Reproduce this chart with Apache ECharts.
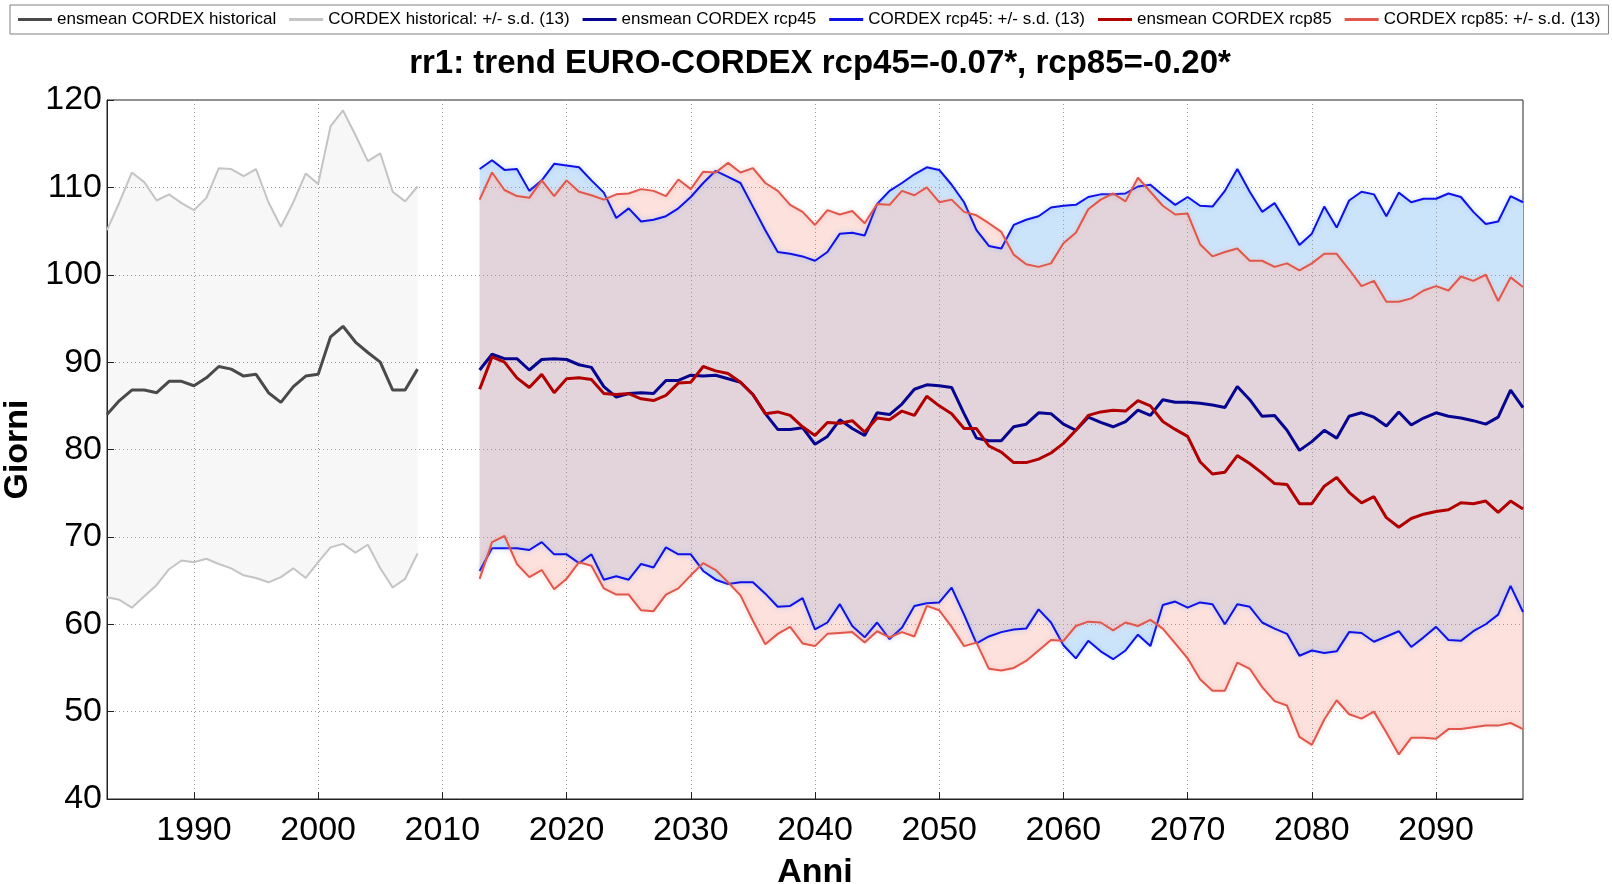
<!DOCTYPE html>
<html><head><meta charset="utf-8">
<script src="https://cdn.jsdelivr.net/npm/echarts@6/dist/echarts.min.js"></script>
<style>html,body{margin:0;padding:0;background:#fff}#c{width:1612px;height:884px}</style>
</head><body><div id="c"></div><script>
const histYears = [1983,1984,1985,1986,1987,1988,1989,1990,1991,1992,1993,1994,1995,1996,1997,1998,1999,2000,2001,2002,2003,2004,2005,2006,2007,2008];
const histMean  = [84.0,85.6,86.8,86.8,86.5,87.8,87.8,87.3,88.2,89.5,89.2,88.4,88.6,86.5,85.4,87.2,88.4,88.6,92.9,94.1,92.3,91.1,90.0,86.8,86.8,89.2];
const histUpper = [105.1,108.3,111.7,110.6,108.5,109.2,108.2,107.4,108.8,112.2,112.1,111.3,112.1,108.3,105.5,108.3,111.6,110.4,117.0,118.8,116.0,113.0,113.9,109.5,108.4,110.1];
const histLower = [63.1,62.8,61.9,63.2,64.5,66.3,67.3,67.1,67.5,66.9,66.4,65.6,65.3,64.8,65.4,66.4,65.3,67.1,68.8,69.2,68.2,69.1,66.4,64.2,65.2,68.1];

const rcpYears = [2013,2014,2015,2016,2017,2018,2019,2020,2021,2022,
  2023,2024,2025,2026,2027,2028,2029,2030,2031,2032,
  2033,2034,2035,2036,2037,2038,2039,2040,2041,2042,
  2043,2044,2045,2046,2047,2048,2049,2050,2051,2052,
  2053,2054,2055,2056,2057,2058,2059,2060,2061,2062,
  2063,2064,2065,2066,2067,2068,2069,2070,2071,2072,
  2073,2074,2075,2076,2077,2078,2079,2080,2081,2082,
  2083,2084,2085,2086,2087,2088,2089,2090,2091,2092,
  2093,2094,2095,2096,2097];

const rcp45Mean = [89.1,90.9,90.4,90.4,89.1,90.3,90.4,90.3,89.7,89.4,
  87.2,86.0,86.4,86.5,86.4,87.9,87.9,88.5,88.4,88.5,
  88.1,87.7,86.3,84.1,82.3,82.3,82.5,80.6,81.5,83.4,
  82.4,81.6,84.2,84.0,85.2,86.9,87.4,87.3,87.1,84.1,
  81.3,81.0,81.0,82.6,82.9,84.2,84.1,82.9,82.2,83.7,
  83.1,82.6,83.2,84.5,83.9,85.7,85.4,85.4,85.3,85.1,
  84.8,87.2,85.7,83.8,83.9,82.2,79.9,80.9,82.2,81.3,
  83.8,84.2,83.7,82.7,84.3,82.8,83.6,84.2,83.8,83.6,
  83.3,82.9,83.7,86.8,84.8];
const rcp45Upper = [112.1,113.1,112.0,112.1,109.6,110.8,112.7,112.5,112.3,110.8,
  109.4,106.5,107.6,106.1,106.3,106.7,107.6,108.9,110.5,111.9,
  111.2,110.5,107.8,105.1,102.6,102.4,102.1,101.6,102.6,104.7,
  104.8,104.5,108.1,109.6,110.5,111.5,112.3,112.0,110.3,108.3,
  105.1,103.3,103.0,105.7,106.3,106.7,107.7,107.9,108.0,108.9,
  109.2,109.2,109.3,110.1,110.3,109.1,108.0,108.9,107.9,107.8,
  109.6,112.1,109.5,107.2,108.2,105.9,103.4,104.7,107.8,105.4,
  108.5,109.5,109.2,106.7,109.4,108.3,108.7,108.7,109.3,108.9,
  107.2,105.8,106.1,109.0,108.3];
const rcp45Lower = [66.1,68.7,68.7,68.7,68.5,69.4,68.0,68.0,67.0,68.0,
  65.1,65.5,65.1,66.9,66.5,68.8,68.0,68.0,66.1,65.1,
  64.6,64.8,64.8,63.5,62.0,62.1,63.0,59.4,60.2,62.3,
  59.8,58.5,60.2,58.3,59.6,62.1,62.4,62.5,64.2,61.1,
  57.8,58.6,59.1,59.4,59.5,61.7,60.2,57.6,56.1,58.1,
  56.9,56.0,57.0,58.8,57.5,62.2,62.6,61.9,62.5,62.3,
  60.0,62.3,62.0,60.2,59.5,58.9,56.4,57.0,56.7,56.9,
  59.1,59.0,58.0,58.6,59.2,57.4,58.5,59.7,58.2,58.1,
  59.2,60.0,61.1,64.4,61.4];

const rcp85Mean = [86.9,90.6,90.0,88.2,87.1,88.6,86.5,88.1,88.2,88.0,
  86.4,86.3,86.4,85.8,85.6,86.2,87.6,87.7,89.5,89.0,
  88.7,87.7,86.3,84.1,84.3,83.9,82.6,81.6,83.1,83.0,
  83.3,82.0,83.6,83.4,84.4,83.9,86.1,85.0,84.1,82.4,
  82.4,80.4,79.7,78.5,78.5,78.9,79.6,80.7,82.2,83.9,
  84.3,84.5,84.4,85.6,85.0,83.2,82.3,81.5,78.6,77.2,
  77.4,79.3,78.4,77.3,76.1,76.0,73.8,73.8,75.8,76.8,
  75.1,73.9,74.6,72.2,71.1,72.1,72.6,72.9,73.1,73.9,
  73.8,74.1,72.8,74.1,73.2];
const rcp85Upper = [108.6,111.7,109.7,109.0,108.8,110.8,109.0,110.8,109.5,109.1,
  108.6,109.2,109.3,109.8,109.6,109.0,110.9,109.8,111.8,111.7,
  112.8,111.7,112.2,110.5,109.6,108.0,107.2,105.7,107.4,106.9,
  107.3,105.9,108.1,108.0,109.6,109.1,110.0,108.3,108.6,107.2,
  106.8,105.9,104.9,102.3,101.2,100.9,101.3,103.6,104.8,107.5,
  108.6,109.3,108.4,111.1,109.5,107.9,106.9,107.0,103.5,102.1,
  102.6,103.0,101.6,101.6,100.9,101.3,100.5,101.3,102.4,102.4,
  100.6,98.7,99.3,96.9,96.9,97.3,98.2,98.7,98.2,99.8,
  99.3,100.0,97.0,99.7,98.6];
const rcp85Lower = [65.2,69.4,70.1,66.9,65.4,66.2,64.0,65.2,67.1,66.7,
  64.1,63.4,63.4,61.6,61.5,63.4,64.1,65.6,67.0,66.2,
  64.8,63.3,60.4,57.7,58.9,59.7,57.8,57.5,58.9,59.0,
  59.1,57.9,59.2,58.5,59.1,58.6,62.1,61.6,59.7,57.5,
  57.9,54.9,54.7,55.0,55.8,57.0,58.2,58.1,59.8,60.3,
  60.2,59.3,60.2,59.8,60.5,59.5,57.8,56.1,53.7,52.4,
  52.4,55.6,54.9,52.8,51.2,50.7,47.1,46.2,49.1,51.3,
  49.7,49.2,50.0,47.6,45.1,47.0,47.0,46.9,48.0,48.0,
  48.2,48.4,48.4,48.7,48.0];

const xTickLabels = [1990,2000,2010,2020,2030,2040,2050,2060,2070,2080,2090];
const yTickLabels = [40,50,60,70,80,90,100,110,120];

const titleText = 'rr1: trend EURO-CORDEX rcp45=-0.07*, rcp85=-0.20*';
const names = ['ensmean CORDEX historical','CORDEX historical: +/- s.d. (13)','ensmean CORDEX rcp45','CORDEX rcp45: +/- s.d. (13)','ensmean CORDEX rcp85','CORDEX rcp85: +/- s.d. (13)'];

function zip(xs, ys){ return xs.map((x,i)=>[x, ys[i]]); }

function band(xs, lo, hi, fill, z){
  return {
    type:'custom', silent:true, z:z, clip:true,
    data:[[xs[0], lo[0]]],
    renderItem:function(params, api){
      const pts=[];
      for(let i=0;i<xs.length;i++) pts.push(api.coord([xs[i], hi[i]]));
      for(let i=xs.length-1;i>=0;i--) pts.push(api.coord([xs[i], lo[i]]));
      return {type:'polygon', shape:{points:pts}, style:{fill:fill}};
    }
  };
}
function line(name, xs, ys, color, width, glow){
  const ls = {color:color, width:width};
  if(glow){ ls.shadowColor = glow; ls.shadowBlur = 5; }
  return {type:'line', name:name, data:zip(xs,ys), symbol:'none', showSymbol:false,
    lineStyle:ls, itemStyle:{color:color}, z:5, silent:true, animation:false};
}

const chart = echarts.init(document.getElementById('c'));
chart.setOption({
  animation:false,
  backgroundColor:'#ffffff',
  title:{text:titleText, left:815, textAlign:'center', top:42,
    textStyle:{fontFamily:'Liberation Sans', fontWeight:'bold', fontSize:33, color:'#000'}},
  legend:{
    data:names, left:10, top:5, icon:'rect', itemWidth:34, itemHeight:3, itemGap:13,
    padding:[6,8,6,8], borderColor:'#808080', borderWidth:1,
    textStyle:{fontFamily:'Liberation Sans', fontSize:17, color:'#000'}
  },
  grid:{left:107, right:89, top:100, bottom:85, containLabel:false, outerBoundsMode:'none',
    show:true, borderColor:'#222', borderWidth:1, backgroundColor:'transparent'},
  xAxis:{
    type:'value', min:1983, max:2097, splitNumber:11, z:3,
    name:'Anni', nameLocation:'middle', nameGap:57,
    nameTextStyle:{fontFamily:'Liberation Sans', fontWeight:'bold', fontSize:34, color:'#000'},
    axisLine:{show:true, lineStyle:{color:'#222', width:1}},
    axisTick:{show:true, inside:true, length:7, lineStyle:{color:'#222'}},
    axisLabel:{fontFamily:'Liberation Sans', fontSize:34, color:'#000', margin:15,
      showMinLabel:false, showMaxLabel:false,
      formatter:function(v){ return xTickLabels.indexOf(v) >= 0 ? String(v) : ''; }},
    splitLine:{show:true, lineStyle:{color:'#9a9a9a', type:[1,3], width:1}}
  },
  yAxis:{
    type:'value', min:40, max:120, interval:10, z:3,
    name:'Giorni', nameLocation:'middle', nameGap:64, nameRotate:90,
    nameTextStyle:{fontFamily:'Liberation Sans', fontWeight:'bold', fontSize:34, color:'#000'},
    axisLine:{show:true, lineStyle:{color:'#222', width:1}},
    axisTick:{show:true, inside:true, length:7, lineStyle:{color:'#222'}},
    axisLabel:{fontFamily:'Liberation Sans', fontSize:34, color:'#000', margin:5,
      formatter:function(v){ return yTickLabels.indexOf(v) >= 0 ? String(v) : ''; }},
    splitLine:{show:true, lineStyle:{color:'#9a9a9a', type:[1,3], width:1}}
  },
  series:[
    band(histYears, histLower, histUpper, '#f7f7f7', 1),
    band(rcpYears, rcp45Lower, rcp45Upper, '#cce4fa', 1),
    band(rcpYears, rcp85Lower, rcp85Upper, 'rgba(249,195,187,0.5)', 1),
    line(names[1], histYears, histUpper, '#c4c4c4', 2),
    line(names[1], histYears, histLower, '#c4c4c4', 2),
    line(names[0], histYears, histMean, '#4a4a4a', 3),
    line(names[3], rcpYears, rcp45Upper, '#1010e8', 2, 'rgba(120,180,255,0.6)'),
    line(names[3], rcpYears, rcp45Lower, '#1010e8', 2, 'rgba(120,180,255,0.6)'),
    line(names[5], rcpYears, rcp85Upper, '#e0574c', 2, 'rgba(250,170,160,0.6)'),
    line(names[5], rcpYears, rcp85Lower, '#e0574c', 2, 'rgba(250,170,160,0.6)'),
    line(names[2], rcpYears, rcp45Mean, '#05058f', 3),
    line(names[4], rcpYears, rcp85Mean, '#b00000', 3)
  ]
});
</script></body></html>
